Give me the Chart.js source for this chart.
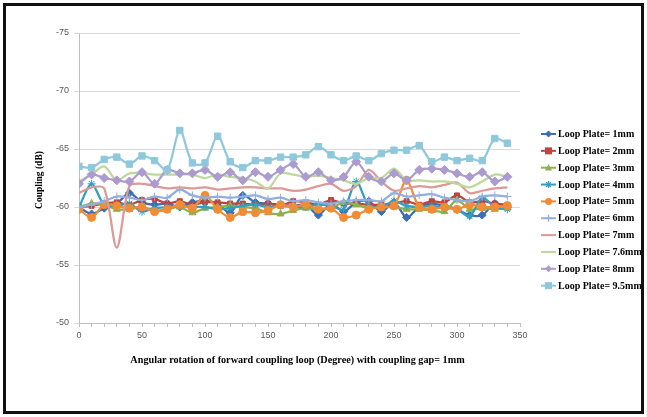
<!DOCTYPE html>
<html>
<head>
<meta charset="utf-8">
<script src="https://cdn.jsdelivr.net/npm/chart.js@4.4.0/dist/chart.umd.min.js"></script>
<style>
  html, body { margin: 0; padding: 0; background: #fff; }
  #wrap { position: relative; width: 647px; height: 417px; }
  #frame { position: absolute; left: 3px; top: 3px; width: 641px; height: 411px;
           box-sizing: border-box; border: 3px solid #111; pointer-events: none; }
</style>
</head>
<body>
<div id="wrap">
  <canvas id="c" width="647" height="417"></canvas>
  <div id="frame"></div>
</div>
<script>
// Rotation angle of the forward coupling loop (degrees)
const angles = [0, 10, 20, 30, 40, 50, 60, 70, 80, 90, 100, 110, 120, 130, 140, 150, 160, 170,
                180, 190, 200, 210, 220, 230, 240, 250, 260, 270, 280, 290, 300, 310, 320, 330, 340];

// Coupling (dB) for each loop plate width
const plate1mm  = [-60.0, -59.4, -59.9, -60.3, -61.2, -60.4, -60.2, -60.3, -60.0, -60.4, -60.5, -60.3, -59.5, -61.0, -60.4, -60.3, -60.2, -60.1,
                   -60.2, -59.3, -60.3, -59.6, -60.4, -60.5, -59.6, -60.4, -59.1, -60.0, -60.3, -60.1, -59.8, -59.3, -59.3, -60.3, -60.0];
const plate2mm  = [-60.0, -60.1, -60.3, -60.4, -60.2, -60.6, -60.7, -60.3, -60.5, -60.2, -60.4, -60.4, -60.3, -60.3, -60.2, -60.3, -60.1, -60.5,
                   -60.4, -60.2, -60.6, -60.3, -60.3, -60.2, -60.2, -60.3, -60.5, -60.2, -60.5, -60.4, -61.0, -60.4, -60.5, -60.3, -60.2];
const plate3mm  = [-60.0, -60.3, -60.2, -59.8, -59.8, -60.0, -59.7, -59.8, -60.0, -59.5, -59.9, -60.0, -60.1, -60.0, -59.9, -59.5, -59.4, -59.7,
                   -59.9, -59.8, -59.9, -60.4, -60.2, -59.9, -60.0, -60.0, -59.8, -59.8, -59.7, -59.6, -60.6, -59.8, -59.9, -59.8, -59.9];
const plate4mm  = [-60.0, -62.0, -60.2, -60.1, -60.3, -59.6, -59.9, -60.0, -60.1, -60.0, -60.0, -59.8, -59.9, -60.1, -60.2, -60.0, -60.1, -60.0,
                   -60.0, -60.2, -60.1, -59.8, -62.2, -60.1, -60.0, -60.5, -60.1, -60.0, -60.1, -59.9, -59.8, -59.2, -60.8, -60.0, -59.8];
const plate5mm  = [-59.8, -59.1, -60.2, -60.1, -59.9, -60.0, -59.6, -59.8, -60.2, -59.9, -61.0, -59.8, -59.1, -59.6, -59.5, -59.7, -60.2, -60.0,
                   -60.2, -59.8, -59.9, -59.1, -59.3, -59.8, -60.0, -60.1, -62.3, -60.0, -59.8, -60.0, -59.8, -60.2, -60.0, -60.0, -60.1];
const plate6mm  = [-60.0, -60.2, -60.5, -60.9, -60.8, -60.6, -60.9, -60.8, -61.5, -61.0, -60.8, -60.9, -60.8, -60.9, -61.0, -60.7, -60.8, -60.5,
                   -60.6, -60.4, -60.3, -60.5, -60.6, -60.6, -60.5, -61.2, -60.9, -61.0, -61.1, -60.8, -60.6, -60.5, -60.9, -61.0, -60.9];
const plate7mm  = [-61.2, -61.7, -61.6, -56.5, -61.8, -62.0, -61.8, -61.6, -61.7, -61.6, -61.7, -61.5, -61.6, -61.7, -61.7, -61.6, -61.6, -61.4,
                   -61.5, -61.8, -62.0, -61.4, -61.8, -63.2, -62.2, -61.4, -61.6, -61.8, -61.7, -61.9, -62.1, -61.2, -61.4, -61.6, -61.7];
const plate7_6mm = [-62.2, -62.8, -63.5, -62.3, -62.9, -62.9, -62.8, -62.8, -62.8, -62.8, -62.5, -62.8, -62.6, -62.5, -62.2, -61.6, -62.9, -62.8,
                   -62.6, -62.7, -62.5, -62.3, -62.0, -62.5, -62.5, -63.3, -62.3, -62.3, -62.2, -62.2, -62.0, -61.7, -62.2, -62.8, -62.6];
const plate8mm  = [-62.0, -62.8, -62.5, -62.3, -62.2, -63.0, -62.0, -63.2, -62.9, -62.9, -63.2, -62.6, -63.0, -62.3, -63.0, -62.6, -63.2, -63.7,
                   -62.6, -63.0, -62.3, -62.6, -63.9, -62.6, -62.2, -62.9, -62.3, -63.2, -63.3, -63.2, -62.9, -62.6, -63.0, -62.2, -62.6];
const plate9_5mm = [-63.5, -63.4, -64.1, -64.3, -63.7, -64.4, -64.0, -63.2, -66.6, -63.8, -63.8, -66.1, -63.9, -63.4, -64.0, -64.0, -64.3, -64.3,
                   -64.5, -65.2, -64.5, -64.0, -64.4, -64.0, -64.6, -64.9, -64.9, -65.3, -63.9, -64.3, -64.0, -64.2, -64.0, -65.9, -65.5];

const seriesLabels = ['Loop Plate= 1mm', 'Loop Plate= 2mm', 'Loop Plate= 3mm', 'Loop Plate= 4mm', 'Loop Plate= 5mm',
                      'Loop Plate= 6mm', 'Loop Plate= 7mm', 'Loop Plate= 7.6mm', 'Loop Plate= 8mm', 'Loop Plate= 9.5mm'];
const seriesValues = [plate1mm, plate2mm, plate3mm, plate4mm, plate5mm, plate6mm, plate7mm, plate7_6mm, plate8mm, plate9_5mm];

const yTicks = { min: -75, max: -50, step: 5 };
const xTicks = { min: 0, max: 350, step: 50 };

const xTitle = 'Angular rotation of forward coupling loop (Degree) with coupling gap= 1mm';
const yTitle = 'Coupling (dB)';

// Per-series styling
const styles = [
  { color: '#3D6DB5', marker: 'rectRot',  r: 4 },
  { color: '#BC4541', marker: 'rect',     r: 3.5 },
  { color: '#8DB04A', marker: 'triangle', r: 4 },
  { color: '#2FA0C2', marker: 'star',     r: 4 },
  { color: '#F08C35', marker: 'circle',   r: 4 },
  { color: '#93AEDF', marker: 'cross',    r: 4 },
  { color: '#DC9996', marker: false,      r: 0 },
  { color: '#BED79B', marker: false,      r: 0 },
  { color: '#AB9BCF', marker: 'rectRot',  r: 4.5 },
  { color: '#8FC8DB', marker: 'rect',     r: 4.5 }
];

const datasets = seriesValues.map((vals, i) => ({
  label: seriesLabels[i],
  data: angles.map((a, k) => ({ x: a, y: vals[k] })),
  borderColor: styles[i].color,
  backgroundColor: styles[i].color,
  pointBackgroundColor: styles[i].color,
  pointBorderColor: styles[i].color,
  pointStyle: styles[i].marker || 'circle',
  pointRadius: styles[i].r,
  pointBorderWidth: 1,
  borderWidth: 2.25,
  tension: 0.3,
  order: -i
}));

// Small marker renderer for the legend
function drawMarker(ctx, type, x, y, r, color) {
  ctx.save();
  ctx.fillStyle = color; ctx.strokeStyle = color; ctx.lineWidth = 1.3;
  ctx.beginPath();
  if (type === 'rectRot') {
    ctx.moveTo(x, y - r); ctx.lineTo(x + r, y); ctx.lineTo(x, y + r); ctx.lineTo(x - r, y); ctx.closePath(); ctx.fill();
  } else if (type === 'rect') {
    ctx.rect(x - r, y - r, 2 * r, 2 * r); ctx.fill();
  } else if (type === 'triangle') {
    ctx.moveTo(x, y - r); ctx.lineTo(x + r, y + r * 0.8); ctx.lineTo(x - r, y + r * 0.8); ctx.closePath(); ctx.fill();
  } else if (type === 'circle') {
    ctx.arc(x, y, r, 0, Math.PI * 2); ctx.fill();
  } else if (type === 'cross') {
    ctx.moveTo(x - r, y); ctx.lineTo(x + r, y); ctx.moveTo(x, y - r); ctx.lineTo(x, y + r); ctx.stroke();
  } else if (type === 'star') {
    const d = r * 0.7;
    ctx.moveTo(x - d, y - d); ctx.lineTo(x + d, y + d); ctx.moveTo(x + d, y - d); ctx.lineTo(x - d, y + d);
    ctx.moveTo(x, y - r); ctx.lineTo(x, y + r); ctx.stroke();
  }
  ctx.restore();
}

const titlesAndLegend = {
  id: 'titlesAndLegend',
  afterDraw(chart) {
    const ctx = chart.ctx;
    const area = chart.chartArea;
    ctx.save();
    ctx.fillStyle = '#000';
    ctx.font = 'bold 10.2px "Liberation Serif", "Times New Roman", serif';
    ctx.textAlign = 'center';
    ctx.textBaseline = 'middle';
    ctx.fillText(xTitle, (area.left + area.right) / 2 - 2, 360);

    ctx.save();
    ctx.font = 'bold 9.5px "Liberation Serif", "Times New Roman", serif';
    ctx.translate(40, (area.top + area.bottom) / 2 + 2);
    ctx.rotate(-Math.PI / 2);
    ctx.fillText(yTitle, 0, 0);
    ctx.restore();

    // Legend on the right
    ctx.textAlign = 'left';
    ctx.font = 'bold 10px "Liberation Serif", "Times New Roman", serif';
    chart.data.datasets.forEach((ds, i) => {
      const y = 134 + i * 16.85;
      const st = styles[i];
      ctx.strokeStyle = st.color;
      ctx.lineWidth = 2;
      ctx.beginPath();
      ctx.moveTo(541, y); ctx.lineTo(556, y); ctx.stroke();
      if (st.marker) drawMarker(ctx, st.marker, 548.5, y, Math.min(st.r, 3.5), st.color);
      ctx.fillStyle = '#000';
      ctx.fillText(ds.label, 558, y + 0.5);
    });
    ctx.restore();
  }
};

new Chart(document.getElementById('c'), {
  type: 'line',
  data: { datasets },
  options: {
    responsive: false,
    animation: false,
    events: [],
    layout: { padding: { left: 0, top: 33, right: 127, bottom: 0 } },
    plugins: { legend: { display: false }, tooltip: { enabled: false } },
    scales: {
      x: {
        type: 'linear',
        min: xTicks.min, max: xTicks.max,
        ticks: {
          stepSize: 10, autoSkip: false, maxRotation: 0, padding: 3,
          color: '#595959', font: { size: 9, family: 'Liberation Sans' },
          callback: v => (v % xTicks.step === 0 ? v : '')
        },
        grid: { drawOnChartArea: false, drawTicks: true, tickLength: 4, color: '#bfbfbf' },
        border: { color: '#bfbfbf' },
        afterFit(s) { s.height = 94; }
      },
      y: {
        min: yTicks.min, max: yTicks.max, reverse: true,
        ticks: { stepSize: yTicks.step, padding: 5, color: '#595959', font: { size: 9, family: 'Liberation Sans' } },
        grid: { color: '#d9d9d9', tickLength: 5 },
        border: { color: '#bfbfbf' },
        afterFit(s) { s.width = 79; }
      }
    }
  },
  plugins: [titlesAndLegend]
});
</script>
</body>
</html>
